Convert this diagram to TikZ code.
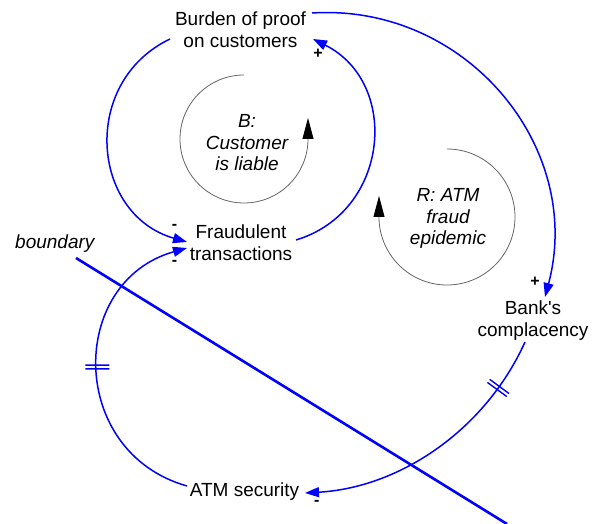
\documentclass[tikz,border=0pt]{standalone}
\usepackage{fontspec}
\setmainfont{Liberation Sans}[Ligatures=TeXOff]
\usetikzlibrary{arrows.meta,decorations.markings}
\definecolor{linkblue}{RGB}{0,0,255}
\definecolor{loopgray}{RGB}{100,100,100}
\begin{document}
\begin{tikzpicture}[x=1pt,y=1pt,
  var/.style={align=center, anchor=base, inner sep=0pt,
    font=\fontsize{19}{22}\selectfont},
  looplabel/.style={align=center, anchor=base, inner sep=0pt,
    font=\fontsize{19}{21.5}\selectfont\itshape},
  polarity/.style={inner sep=0pt, font=\fontsize{16}{16}\selectfont\bfseries},
  link/.style={draw=linkblue, line width=1.5pt,
    -{Triangle[length=14pt,width=10pt]}},
  delay/.style={postaction={decorate, decoration={markings,
    mark=at position #1 with {\draw[linkblue, line width=1.4pt, -]
      (-1.9pt,-12pt) -- (-1.9pt,12pt) (1.9pt,-12pt) -- (1.9pt,12pt);}}}},
  loopline/.style={draw=loopgray, line width=0.8pt,
    -{Triangle[length=21pt,width=11pt,color=black]}},
  boundaryline/.style={draw=linkblue, line width=2.6pt}
]
\useasboundingbox (0,0) rectangle (599,524);

% variables (base anchor sits on the last line)
\node[var] (burden) at (240.5,476) {Burden of proof\\on customers};
\node[var] (fraud)  at (241,263)   {Fraudulent\\transactions};
\node[var] (bank)   at (533,187)   {Bank's\\complacency};
\node[var] (atm)    at (244.5,27)  {ATM security};

% system boundary
\node[anchor=base west, inner sep=0pt, font=\fontsize{19}{22}\selectfont\itshape]
  (boundarylabel) at (15,275) {boundary};
\coordinate (bstart) at (76,266);
\coordinate (bstop)  at (507,0);
\draw[boundaryline] (bstart) -- (bstop);

% causal links
\draw[link] ([shift={(55,21)}]fraud.base)
  to[out=16.8, in=-26.6, looseness=1.244] ([shift={(72.5,9)}]burden.base);
\draw[link] ([shift={(-70.5,9)}]burden.base)
  to[out=205.6, in=164, looseness=1.257] ([shift={(-54,19)}]fraud.base);
\draw[link] ([shift={(71.5,35)}]burden.base)
  to[out=3.6, in=75.1, looseness=1.075] ([shift={(12,40)}]bank.base);
\draw[link, delay=0.19] ([shift={(-8,-5)}]bank.base)
  to[out=-114.3, in=3.3, looseness=0.917] ([shift={(60.5,4)}]atm.base);
\draw[link, delay=0.5] ([shift={(-57.5,11)}]atm.base)
  to[out=164.2, in=-164.2, looseness=1.338] ([shift={(-54,13)}]fraud.base);

% link polarities
\node[polarity] (p1) at (318,470)   {+};
\node[polarity] (p2) at (174.5,297.5) {-};
\node[polarity] (p3) at (174.5,261) {-};
\node[polarity] (p4) at (535,242)   {+};
\node[polarity] (p5) at (316.7,20.8) {-};

% loop identifiers
\draw[loopline] (244,449) arc[start angle=90, end angle=360, radius=64] -- ++(0,21);
\node[looplabel] (loopB) at (247,353) {B:\\Customer\\is liable};
\draw[loopline] (447,375) arc[start angle=90, end angle=-180, radius=68] -- ++(0,21);
\node[looplabel] (loopR) at (448,279) {R: ATM\\fraud\\epidemic};
\end{tikzpicture}
\end{document}
